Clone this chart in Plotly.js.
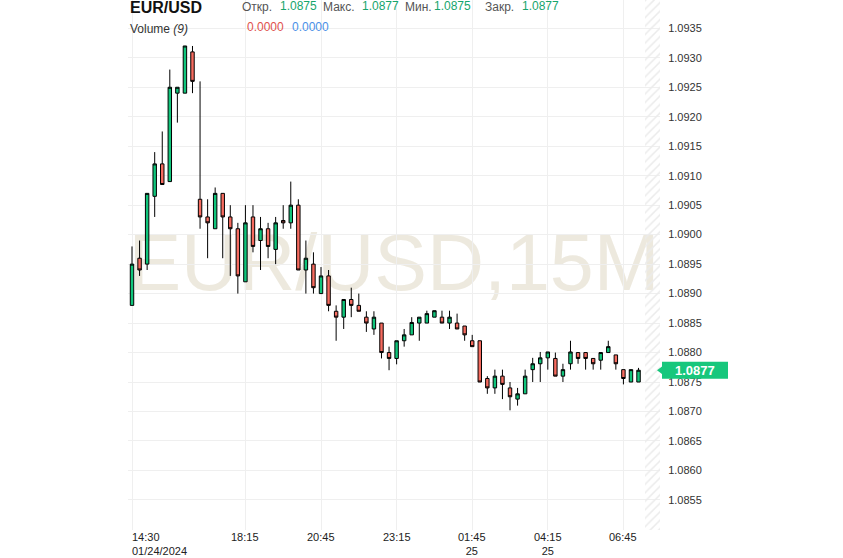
<!DOCTYPE html>
<html>
<head>
<meta charset="utf-8">
<script src="https://cdn.plot.ly/plotly-3.0.1.min.js"></script>
<style>html,body{margin:0;padding:0;background:#fff;}#chart{width:843px;height:558px;}</style>
</head>
<body>
<div id="chart"></div>
<script>
// ---- data (EUR/USD, 15-minute candles) ----
var startTime = '2024-01-24T14:30:00';
var stepMinutes = 15;
var opens  = [1.0888,1.0896,1.0895,1.09065,1.0912,1.0909,1.0924,1.0924,1.0931,1.0906,
              1.0903,1.0901,1.0907,1.0903,1.0901,1.0892,1.0903,1.0899,1.0901,1.08975,
              1.09024,1.0902,1.0905,1.0894,1.0895,1.0890,1.0893,1.0887,1.0886,1.0889,
              1.0888,1.0886,1.0884,1.0885,1.0880,1.0879,1.0882,1.0883,1.0885,1.0885,
              1.0886,1.0886,1.0885,1.0885,1.08845,1.0882,1.0882,1.08756,1.0874,1.0876,
              1.0874,1.08721,1.0873,1.08771,1.08781,1.08791,1.0879,1.0876,1.08781,1.0880,
              1.0880,1.0879,1.08787,1.0880,1.08796,1.08771,1.0875,1.0875];
var highs  = [1.0898,1.0899,1.0907,1.0914,1.09175,1.0928,1.0925,1.0932,1.0932,1.0926,
              1.0906,1.0908,1.0907,1.0905,1.0902,1.0905,1.0905,1.0903,1.0902,1.0903,
              1.0905,1.0909,1.0906,1.0899,1.0897,1.08945,1.0894,1.0888,1.0889,1.0891,
              1.0890,1.0887,1.0887,1.0885,1.0881,1.0882,1.0884,1.0886,1.0886,1.08871,
              1.08871,1.08871,1.08871,1.08866,1.08845,1.0883,1.0882,1.0876,1.08771,1.08771,
              1.0875,1.0874,1.08771,1.08791,1.08801,1.08801,1.0880,1.08781,1.0882,1.0880,
              1.0880,1.0879,1.0880,1.0882,1.08796,1.08771,1.08771,1.08774];
var lows   = [1.0888,1.0893,1.0894,1.0903,1.09085,1.0909,1.0919,1.0924,1.0924,1.0901,
              1.0896,1.0901,1.0896,1.0893,1.0890,1.0892,1.0897,1.0894,1.0896,1.0895,
              1.0901,1.0901,1.0894,1.0890,1.0890,1.0890,1.0887,1.0882,1.0884,1.0886,
              1.0887,1.08835,1.0883,1.0879,1.0877,1.0878,1.0881,1.0883,1.0882,1.0885,
              1.0886,1.0885,1.0884,1.0884,1.0882,1.0881,1.0875,1.0873,1.0873,1.08721,
              1.08702,1.0871,1.0873,1.0875,1.0875,1.08771,1.0876,1.0875,1.08771,1.08781,
              1.08771,1.08771,1.08771,1.0880,1.08771,1.08746,1.0875,1.0875];
var closes = [1.0895,1.0894,1.0907,1.0912,1.09085,1.0925,1.0925,1.0932,1.0926,1.0903,
              1.0902,1.0907,1.0903,1.0901,1.0893,1.0902,1.0898,1.0901,1.0898,1.0902,
              1.0902,1.0905,1.0894,1.0896,1.0891,1.0893,1.0888,1.0886,1.0889,1.0888,
              1.0887,1.0885,1.0886,1.0880,1.0879,1.0882,1.0883,1.08851,1.0886,1.08866,
              1.08871,1.0885,1.0886,1.0884,1.0883,1.0881,1.0875,1.0874,1.0876,1.08746,
              1.08725,1.0873,1.0876,1.08781,1.08791,1.08801,1.0876,1.08771,1.08801,1.0879,
              1.0879,1.08781,1.0880,1.0881,1.08781,1.08756,1.08771,1.0877];

var xTickTimes  = ['2024-01-24T14:30:00','2024-01-24T18:15:00','2024-01-24T20:45:00','2024-01-24T23:15:00',
                   '2024-01-25T01:45:00','2024-01-25T04:15:00','2024-01-25T06:45:00'];
var xTickLabels = ['14:30<br>01/24/2024','18:15','20:45','23:15','01:45<br>25','04:15<br>25','06:45'];
var yTickValues = [1.0855,1.0860,1.0865,1.0870,1.0875,1.0880,1.0885,1.0890,1.0895,1.0900,1.0905,1.0910,1.0915,1.0920,1.0925,1.0930,1.0935];

var symbol = 'EUR/USD';
var watermark = 'EUR/USD,15M';
var ohlcLabels = ['Откр.','Макс.','Мин.','Закр.'];
var ohlcValues = ['1.0875','1.0877','1.0875','1.0877'];
var volumeLabel = 'Volume <i>(9)</i>';
var volumeValues = ['0.0000','0.0000'];
var lastPrice = 1.0877;

// ---- build ----
var t0 = new Date(startTime + 'Z').getTime();
function iso(ms){ return new Date(ms).toISOString().replace('Z',''); }
var times = opens.map(function(_, i){ return iso(t0 + i*stepMinutes*60000); });

var L = 128, R = 660, T = 0, B = 530, W = 843, H = 558;
function px(x){ return (x - L)/(R - L); }
function py(y){ return 1 - (y - T)/(B - T); }

var step = stepMinutes*60000;
var xRange = [iso(t0 - 0.53*step), iso(t0 + 69.84*step)];
var yRange = [1.08499, 1.09398];

var font = 'Arial, "Liberation Sans", sans-serif';

var hatch = {
  type: 'bar', x: [iso(t0 + 68.85*step)], y: [yRange[1]-yRange[0]], base: [yRange[0]],
  width: [1.98*step], hoverinfo: 'skip', showlegend: false,
  marker: {color: 'rgba(0,0,0,0)', line: {width: 0},
           pattern: {shape: '/', fgcolor: '#ebebeb', bgcolor: 'rgba(255,255,255,0)', size: 6, solidity: 0.25}}
};

var candles = {
  type: 'candlestick', x: times, open: opens, high: highs, low: lows, close: closes,
  increasing: {line: {color: '#000', width: 1}, fillcolor: '#10c57b'},
  decreasing: {line: {color: '#000', width: 1}, fillcolor: '#f66b5f'},
  whiskerwidth: 0, hoverinfo: 'skip', showlegend: false
};

var ann = [];
function addText(x, y, text, opts){
  var a = {xref: 'paper', yref: 'paper', x: px(x), y: py(y), text: text, showarrow: false,
           xanchor: 'left', yanchor: 'middle', font: {family: font, size: 12, color: '#555'}};
  for (var k in opts) a[k] = opts[k];
  ann.push(a);
}
addText(128, 8, '<b>' + symbol + '</b>', {font: {family: font, size: 16, color: '#111'}});
var lblX = [240, 321, 403, 483], valX = [278, 360, 432, 520];
for (var i = 0; i < 4; i++) {
  addText(lblX[i], 7, ohlcLabels[i], {font: {family: font, size: 12, color: '#555'}});
  addText(valX[i], 6, ohlcValues[i], {font: {family: font, size: 12, color: '#17a56c'}});
}
addText(128, 29, volumeLabel, {font: {family: font, size: 12, color: '#333'}});
addText(245, 27, volumeValues[0], {font: {family: font, size: 12, color: '#e0514b'}});
addText(290, 27, volumeValues[1], {font: {family: font, size: 12, color: '#4a8fe7'}});

// x tick labels
xTickTimes.forEach(function(t, i){
  ann.push({xref: 'x', yref: 'paper', x: t, y: 0, yanchor: 'top', yshift: 1,
            xanchor: i === 0 ? 'left' : 'center', align: i === 0 ? 'left' : 'center',
            xshift: i === 0 ? -2 : 0,
            text: xTickLabels[i], showarrow: false,
            font: {family: font, size: 11, color: '#222'}});
});
// last price badge text
ann.push({xref: 'paper', yref: 'y', x: px(695), y: lastPrice, xanchor: 'center', yanchor: 'middle',
          text: '<b>' + lastPrice.toFixed(4) + '</b>', showarrow: false,
          font: {family: font, size: 13, color: '#fff'}});

var hb = 0.000145;
var shapes = [
  {type: 'rect', xref: 'paper', yref: 'paper', x0: 0, x1: 1, y0: py(355), y1: py(155), layer: 'below',
   line: {width: 0}, fillcolor: 'rgba(0,0,0,0)',
   label: {text: watermark, textposition: 'middle center',
           font: {family: font, size: 79, color: 'rgba(225,219,200,0.6)'}}},
  {type: 'path', xref: 'paper', yref: 'y', layer: 'above', line: {width: 0}, fillcolor: '#17c77c',
   path: 'M ' + px(657) + ',' + lastPrice + ' L ' + px(662) + ',' + (lastPrice + hb*0.45) +
         ' L ' + px(662) + ',' + (lastPrice + hb) + ' L ' + px(728) + ',' + (lastPrice + hb) +
         ' L ' + px(728) + ',' + (lastPrice - hb) + ' L ' + px(662) + ',' + (lastPrice - hb) +
         ' L ' + px(662) + ',' + (lastPrice - hb*0.45) + ' Z'}
];

var layout = {
  width: W, height: H, margin: {l: L, r: W - R, t: T, b: H - B, pad: 0},
  paper_bgcolor: '#fff', plot_bgcolor: '#fff', showlegend: false, dragmode: false,
  boxgap: 0.35,
  xaxis: {type: 'date', range: xRange, tickvals: xTickTimes, showticklabels: false,
          showgrid: true, gridcolor: '#efefef', gridwidth: 1, zeroline: false, showline: false,
          rangeslider: {visible: false}, fixedrange: true},
  yaxis: {side: 'right', range: yRange, tickvals: yTickValues, tickformat: '.4f',
          showgrid: true, gridcolor: '#efefef', gridwidth: 1, zeroline: false, showline: false,
          ticks: 'outside', ticklen: 5, tickcolor: 'rgba(0,0,0,0)',
          tickfont: {family: font, size: 11, color: '#333'}, fixedrange: true},
  annotations: ann, shapes: shapes
};

Plotly.newPlot('chart', [hatch, candles], layout, {displayModeBar: false, staticPlot: true});
</script>
</body>
</html>
